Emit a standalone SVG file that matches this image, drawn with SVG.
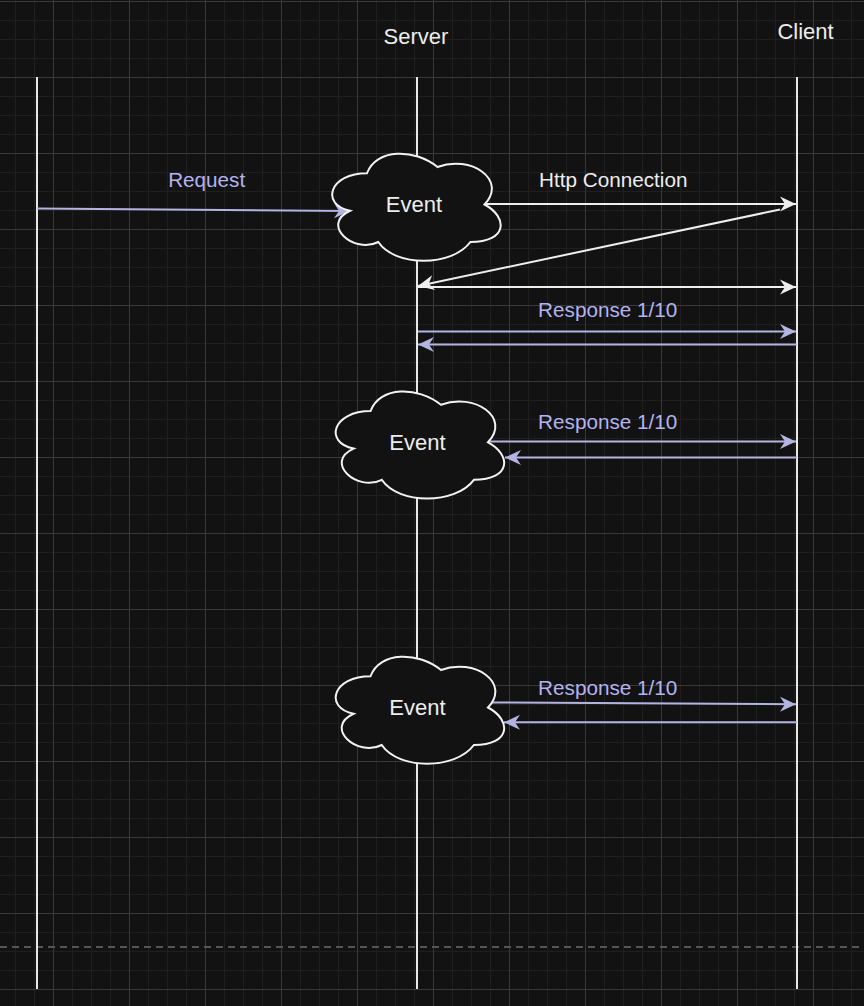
<svg xmlns="http://www.w3.org/2000/svg" xmlns:xlink="http://www.w3.org/1999/xlink" width="864" height="1006" viewBox="0 0 864 1006">
<style>
.lbl{font-family:"Liberation Sans",Arial,Helvetica,sans-serif;text-anchor:middle}
.hdr{font-size:22px;fill:#ededed}
.evt{font-size:22px;fill:#ededed}
.w{font-size:20.7px;fill:#ededed}
.p{font-size:20.7px;fill:#b3b3f0}
.life{stroke:#e8e8e8;stroke-width:2;fill:none}
.cw{stroke:#eeeeee;stroke-width:2;fill:none}
.cp{stroke:#b4b4e2;stroke-width:2;fill:none}
.cloud{fill:#121212;stroke:#f2f2f2;stroke-width:2}
</style>
<defs>
<pattern id="minor" width="19" height="19" patternUnits="userSpaceOnUse" x="15" y="1">
<rect width="19" height="1" fill="#1f1f1f"/><rect width="1" height="19" fill="#1f1f1f"/>
</pattern>
<pattern id="major" width="76" height="76" patternUnits="userSpaceOnUse" x="53" y="1">
<rect width="76" height="1" fill="#393939"/><rect width="1" height="76" fill="#393939"/>
</pattern>
<marker id="aw" markerUnits="userSpaceOnUse" viewBox="-17 -9 18 18" refX="0" refY="0" markerWidth="18" markerHeight="18" orient="auto">
<path d="M0,0 L-16,-7.5 L-11,0 L-16,7.5 Z" fill="#eeeeee"/>
</marker>
<marker id="ap" markerUnits="userSpaceOnUse" viewBox="-17 -9 18 18" refX="0" refY="0" markerWidth="18" markerHeight="18" orient="auto">
<path d="M0,0 L-16,-7.5 L-11,0 L-16,7.5 Z" fill="#b4b4e2"/>
</marker>
<path id="cloudShape" class="cloud" d="M47,31.25 C9.4,31.25 0,62.5 30.08,68.75 C0,82.5 33.84,112.5 58.28,100 C75.2,125 131.6,125 150.4,100 C188,100 188,75 164.5,62.5 C188,37.5 150.4,12.5 117.5,25 C94,6.25 56.4,6.25 47,31.25 Z"/>
</defs>
<rect width="864" height="1006" fill="#121212"/>
<rect width="864" height="1006" fill="url(#minor)"/>
<rect width="864" height="1006" fill="url(#major)"/>
<line x1="0" y1="947" x2="864" y2="947" stroke="#555555" stroke-width="2" stroke-dasharray="7 5"/>

<g id="lifelines">
<line class="life" x1="37" y1="77" x2="37" y2="989"/>
<line class="life" x1="417" y1="77" x2="417" y2="989"/>
<line class="life" x1="797" y1="77" x2="797" y2="989"/>
</g>
<g id="server-label"><text class="lbl hdr" x="416" y="44.3">Server</text></g>
<g id="client-label"><text class="lbl hdr" x="805.5" y="39.3">Client</text></g>

<g id="connectors">
<line class="cp" x1="37" y1="208.5" x2="350" y2="211" marker-end="url(#ap)"/>
<line class="cw" x1="485" y1="204" x2="796" y2="204" marker-end="url(#aw)"/>
<line class="cw" x1="780" y1="209.5" x2="418" y2="286" marker-end="url(#aw)"/>
<line class="cw" x1="418" y1="287" x2="796" y2="287" marker-end="url(#aw)"/>
<line class="cp" x1="418" y1="331.5" x2="796" y2="331.5" marker-end="url(#ap)"/>
<line class="cp" x1="797" y1="344.5" x2="418" y2="344.5" marker-end="url(#ap)"/>
<line class="cp" x1="488" y1="441.5" x2="796" y2="441.5" marker-end="url(#ap)"/>
<line class="cp" x1="797" y1="457.5" x2="505" y2="457.5" marker-end="url(#ap)"/>
<line class="cp" x1="491" y1="702.5" x2="796" y2="704.3" marker-end="url(#ap)"/>
<line class="cp" x1="797" y1="722.3" x2="504" y2="722.3" marker-end="url(#ap)"/>
<text class="lbl p" x="206.7" y="186.7">Request</text>
<text class="lbl w" x="613.3" y="186.7">Http Connection</text>
<text class="lbl p" x="607.7" y="316.7">Response 1/10</text>
<text class="lbl p" x="607.7" y="429.3">Response 1/10</text>
<text class="lbl p" x="607.7" y="695">Response 1/10</text>
</g>

<g id="event1">
<use xlink:href="#cloudShape" x="320" y="142"/>
<text class="lbl evt" x="414" y="212.3">Event</text>
</g>
<g id="event2">
<use xlink:href="#cloudShape" x="323.5" y="379.8"/>
<text class="lbl evt" x="417.5" y="450.2">Event</text>
</g>
<g id="event3">
<use xlink:href="#cloudShape" x="323.5" y="645"/>
<text class="lbl evt" x="417.5" y="715.4">Event</text>
</g>
</svg>
